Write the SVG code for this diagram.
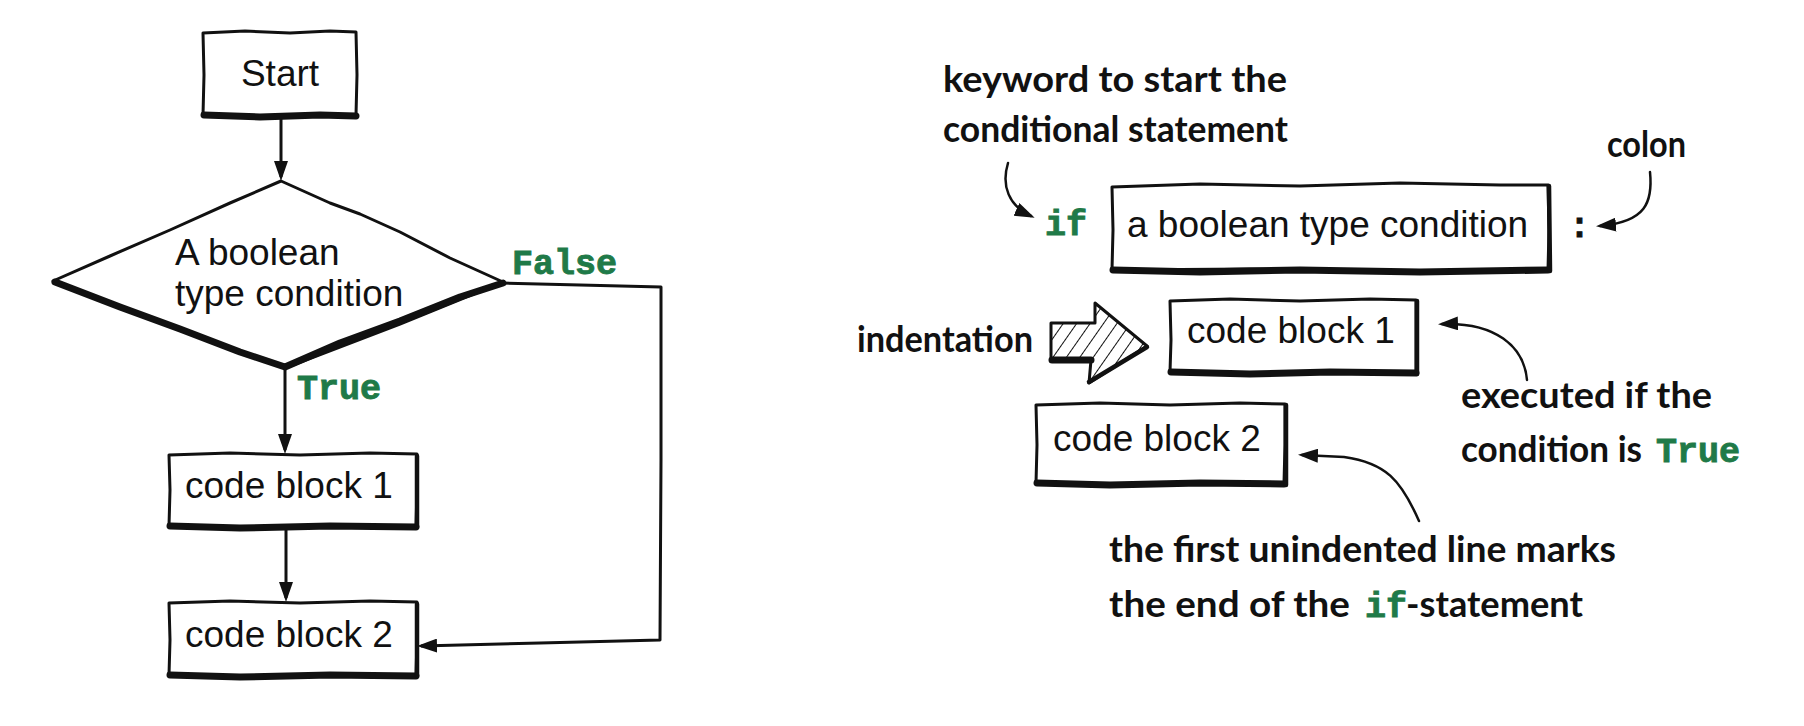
<svg xmlns="http://www.w3.org/2000/svg" width="1804" height="726" viewBox="0 0 1804 726">
<style>
.bg{fill:#ffffff}
.box{fill:#ffffff;stroke:#111;stroke-width:3;stroke-linejoin:round}
.thick{fill:none;stroke:#111;stroke-width:7;stroke-linecap:round;stroke-linejoin:round}
.med{fill:none;stroke:#111;stroke-width:4.5;stroke-linecap:round}
.conn{fill:none;stroke:#111;stroke-width:3;stroke-linejoin:round}
.curve{fill:none;stroke:#111;stroke-width:2.5;stroke-linecap:round}
.lbl{font-family:"Liberation Sans",Arial,sans-serif;font-size:37px;fill:#111}
.code{font-family:"Liberation Mono","Courier New",monospace;font-weight:bold;font-size:35px;fill:#1f7a48;stroke:#1f7a48;stroke-width:0.9}
.hand{font-family:Lato,"Open Sans",sans-serif;font-weight:bold;font-size:36px;fill:#111}
</style>
<defs>
<marker id="ah" viewBox="0 0 20 14" markerWidth="20" markerHeight="14" markerUnits="userSpaceOnUse" refX="16" refY="7" orient="auto">
<path d="M0,0 L20,7 L0,14 Z" fill="#111"/>
</marker>
<pattern id="hatch" patternUnits="userSpaceOnUse" width="11" height="11" patternTransform="rotate(35)">
<rect width="11" height="11" fill="#ffffff"/>
<line x1="0" y1="0" x2="0" y2="11" stroke="#111" stroke-width="2"/>
</pattern>
</defs>
<rect class="bg" x="0" y="0" width="1804" height="726"/>

<g id="connectors">
<path class="conn" d="M281,119 L281,177" marker-end="url(#ah)"/>
<path class="conn" d="M285,370 L285,450" marker-end="url(#ah)"/>
<path class="conn" d="M286,529 L286,598" marker-end="url(#ah)"/>
<path class="conn" d="M503,283 L580,285 L661,287 L661,460 L660,640 L540,643 L421,646" marker-end="url(#ah)"/>
<path class="curve" d="M1008,163 C1001,186 1009,206 1031,216" marker-end="url(#ah)"/>
<path class="curve" d="M1650,172 C1653,202 1646,222 1600,226" marker-end="url(#ah)"/>
<path class="curve" d="M1527,380 C1524,346 1495,322 1442,324" marker-end="url(#ah)"/>
<path class="curve" d="M1419,521 C1401,480 1386,463 1344,457 L1302,455" marker-end="url(#ah)"/>
</g>

<g id="start">
<path class="box" d="M203,33 L245,31 L290,33 L330,31 L356,32 L357,75 L356,115 L280,116 L203,115 L204,75 Z"/>
<path class="thick" d="M204,115 L260,117 L320,115 L356,116"/>
<text class="lbl" x="280" y="86" text-anchor="middle">Start</text>
</g>

<g id="condition">
<path class="box" d="M281,181 L230,203 L170,230 L110,256 L53,281 L170,326 L285,368 L400,324 L503,282 L450,258 L400,232 L360,214 L330,203 Z"/>
<path class="thick" d="M55,282 L120,307 L180,329 L240,352 L285,367 L340,343 L400,321 L460,297 L503,283"/>
<text class="lbl" x="175" y="265">A boolean</text>
<text class="lbl" x="175" y="306">type condition</text>
</g>

<g id="label-false"><text class="code" x="512" y="274">False</text></g>
<g id="label-true"><text class="code" x="297" y="399">True</text></g>

<g id="block1">
<path class="box" d="M169,455 L230,453 L300,455 L370,453 L417,454 L417,490 L416,526 L300,527 L169,526 L170,490 Z"/>
<path class="thick" d="M170,526 L240,528 L330,526 L416,527"/>
<path class="med" d="M417,456 L417,527"/>
<text class="lbl" x="185" y="498">code block 1</text>
</g>

<g id="block2">
<path class="box" d="M169,603 L230,601 L300,603 L370,601 L417,602 L417,640 L416,675 L300,676 L169,675 L170,640 Z"/>
<path class="thick" d="M170,675 L240,677 L330,675 L416,676"/>
<path class="med" d="M417,604 L417,676"/>
<text class="lbl" x="185" y="647">code block 2</text>
</g>

<g id="note-keyword">
<text class="hand" x="943" y="92" textLength="344" lengthAdjust="spacingAndGlyphs">keyword to start the</text>
<text class="hand" x="943" y="142" textLength="345" lengthAdjust="spacingAndGlyphs">conditional statement</text>
</g>

<g id="kw-if"><text class="code" x="1045" y="235">if</text></g>

<g id="cond-box">
<path class="box" d="M1112,187 L1200,184 L1300,186 L1400,183 L1500,185 L1548,185 L1549,230 L1548,270 L1400,271 L1250,269 L1112,270 L1113,230 Z"/>
<path class="thick" d="M1113,270 L1200,272 L1300,270 L1420,272 L1548,270"/>
<path class="med" d="M1549,186 L1550,271"/>
<text class="lbl" x="1127" y="237">a boolean type condition</text>
</g>

<g id="colon-char"><text class="code" x="1569" y="237" style="fill:#111;stroke:#111">:</text></g>
<g id="note-colon"><text class="hand" x="1607" y="157" textLength="79" lengthAdjust="spacingAndGlyphs">colon</text></g>

<g id="indent-arrow">
<path d="M1051,323 L1095,323 L1095,303 L1147,346 L1089,383 L1091,360 L1051,360 Z" fill="url(#hatch)" stroke="#111" stroke-width="3" stroke-linejoin="round"/>
<path class="thick" d="M1052,360 L1091,360"/>
<path class="med" d="M1089,382 L1147,347"/>
</g>
<g id="note-indent"><text class="hand" x="857" y="352" textLength="176" lengthAdjust="spacingAndGlyphs">indentation</text></g>

<g id="r-block1">
<path class="box" d="M1170,301 L1230,299 L1300,301 L1370,299 L1416,300 L1416,340 L1416,372 L1300,373 L1170,372 L1171,340 Z"/>
<path class="thick" d="M1171,372 L1250,374 L1330,372 L1416,373"/>
<path class="med" d="M1417,301 L1417,374"/>
<text class="lbl" x="1187" y="343">code block 1</text>
</g>

<g id="note-executed">
<text class="hand" x="1461" y="408" textLength="251" lengthAdjust="spacingAndGlyphs">executed if the</text>
<text class="hand" x="1461" y="462" textLength="181" lengthAdjust="spacingAndGlyphs">condition is</text>
<text class="code" x="1656" y="462">True</text>
</g>

<g id="r-block2">
<path class="box" d="M1036,405 L1100,403 L1170,405 L1240,403 L1285,404 L1285,445 L1284,483 L1170,484 L1036,483 L1037,445 Z"/>
<path class="thick" d="M1037,483 L1110,485 L1200,483 L1284,484"/>
<path class="med" d="M1286,405 L1286,485"/>
<text class="lbl" x="1053" y="451">code block 2</text>
</g>

<g id="note-unindent">
<text class="hand" x="1109" y="562" textLength="507" lengthAdjust="spacingAndGlyphs">the first unindented line marks</text>
<text class="hand" x="1109" y="617" textLength="241" lengthAdjust="spacingAndGlyphs">the end of the</text>
<text class="code" x="1365" y="617">if</text>
<text class="hand" x="1406" y="617" textLength="177" lengthAdjust="spacingAndGlyphs">-statement</text>
</g>
</svg>
